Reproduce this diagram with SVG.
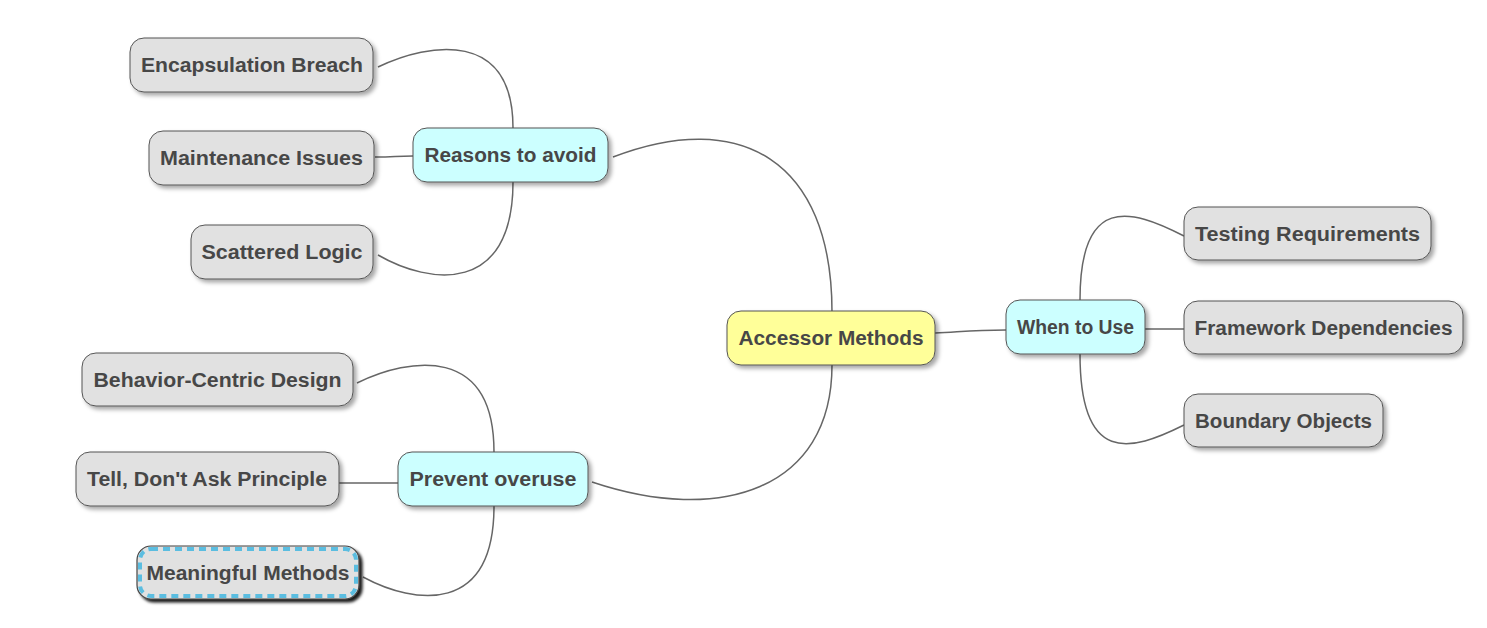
<svg xmlns="http://www.w3.org/2000/svg" width="1487" height="628" viewBox="0 0 1487 628">
<style>
.edge{fill:none;stroke:#666;stroke-width:1.5}
.box{stroke:#555;stroke-width:1;filter:url(#sh)}
.leaf{fill:#e1e1e1}
.mid{fill:#ccffff}
.root{fill:#ffff99}
.lbl{font-family:"Liberation Sans",Arial,sans-serif;font-size:20px;fill:#474747;text-anchor:middle;font-weight:bold}
</style>
<defs>
<filter id="sh" x="-20%" y="-30%" width="140%" height="170%">
<feDropShadow dx="3" dy="3" stdDeviation="2" flood-color="#000" flood-opacity="0.35"/>
</filter>
<filter id="shd" x="-20%" y="-30%" width="140%" height="170%">
<feDropShadow dx="3" dy="3" stdDeviation="1.5" flood-color="#000" flood-opacity="0.9"/>
</filter>
</defs>
<g id="connectors">
<path class="edge" d="M613,157 C740,108 832,160 832,312"/>
<path class="edge" d="M592,482 C720,525 832,490 832,365"/>
<path class="edge" d="M935,333 C970,331 975,330 1006,330"/>
<path class="edge" d="M378,67 C430,42 513,30 513,128"/>
<path class="edge" d="M375,157 C395,157 395,156 413,156"/>
<path class="edge" d="M378,255 C430,285 513,295 513,182"/>
<path class="edge" d="M1184,236 C1130,208 1080,195 1080,300"/>
<path class="edge" d="M1145,329 L1184,329"/>
<path class="edge" d="M1184,425 C1130,452 1080,465 1080,354"/>
<path class="edge" d="M357,383 C410,357 494,345 494,452"/>
<path class="edge" d="M339,483 L398,483"/>
<path class="edge" d="M363,577 C415,605 494,615 494,506"/>
</g>
<g id="n-root">
<rect class="box root" x="727" y="311" width="208" height="54" rx="14"/>
<text class="lbl" x="831" y="345" textLength="185" lengthAdjust="spacingAndGlyphs">Accessor Methods</text>
</g>
<g id="n-reasons">
<rect class="box mid" x="413" y="128" width="195" height="54" rx="14"/>
<text class="lbl" x="510.5" y="162" textLength="172" lengthAdjust="spacingAndGlyphs">Reasons to avoid</text>
</g>
<g id="n-encap">
<rect class="box leaf" x="130" y="38" width="243" height="54" rx="14"/>
<text class="lbl" x="252" y="72" textLength="222" lengthAdjust="spacingAndGlyphs">Encapsulation Breach</text>
</g>
<g id="n-maint">
<rect class="box leaf" x="149" y="131" width="225" height="54" rx="14"/>
<text class="lbl" x="261.5" y="165" textLength="203" lengthAdjust="spacingAndGlyphs">Maintenance Issues</text>
</g>
<g id="n-scatter">
<rect class="box leaf" x="191" y="225" width="182" height="54" rx="14"/>
<text class="lbl" x="282" y="259" textLength="161" lengthAdjust="spacingAndGlyphs">Scattered Logic</text>
</g>
<g id="n-when">
<rect class="box mid" x="1006" y="300" width="139" height="54" rx="14"/>
<text class="lbl" x="1075.5" y="334" textLength="117" lengthAdjust="spacingAndGlyphs">When to Use</text>
</g>
<g id="n-testing">
<rect class="box leaf" x="1184" y="207" width="247" height="53" rx="14"/>
<text class="lbl" x="1307.5" y="240.5" textLength="225" lengthAdjust="spacingAndGlyphs">Testing Requirements</text>
</g>
<g id="n-framework">
<rect class="box leaf" x="1184" y="301" width="279" height="53" rx="14"/>
<text class="lbl" x="1323.5" y="334.5" textLength="258" lengthAdjust="spacingAndGlyphs">Framework Dependencies</text>
</g>
<g id="n-boundary">
<rect class="box leaf" x="1184" y="394" width="199" height="53" rx="14"/>
<text class="lbl" x="1283.5" y="427.5" textLength="177" lengthAdjust="spacingAndGlyphs">Boundary Objects</text>
</g>
<g id="n-prevent">
<rect class="box mid" x="398" y="452" width="190" height="54" rx="14"/>
<text class="lbl" x="493" y="486" textLength="167" lengthAdjust="spacingAndGlyphs">Prevent overuse</text>
</g>
<g id="n-behavior">
<rect class="box leaf" x="82" y="353" width="271" height="53" rx="14"/>
<text class="lbl" x="217.5" y="386.5" textLength="248" lengthAdjust="spacingAndGlyphs">Behavior-Centric Design</text>
</g>
<g id="n-tell">
<rect class="box leaf" x="76" y="452" width="263" height="54" rx="14"/>
<text class="lbl" x="207" y="486" textLength="240" lengthAdjust="spacingAndGlyphs">Tell, Don't Ask Principle</text>
</g>
<g id="n-meaningful">
<rect x="137" y="546" width="222" height="53" rx="14" fill="#e1e1e1" stroke="#444" stroke-width="1.2" filter="url(#shd)"/>
<rect x="140" y="549" width="216" height="47" rx="11" fill="none" stroke="#5bbde0" stroke-width="4" stroke-dasharray="7,5"/>
<text class="lbl" x="248" y="579.5" textLength="203" lengthAdjust="spacingAndGlyphs">Meaningful Methods</text>
</g>
</svg>
